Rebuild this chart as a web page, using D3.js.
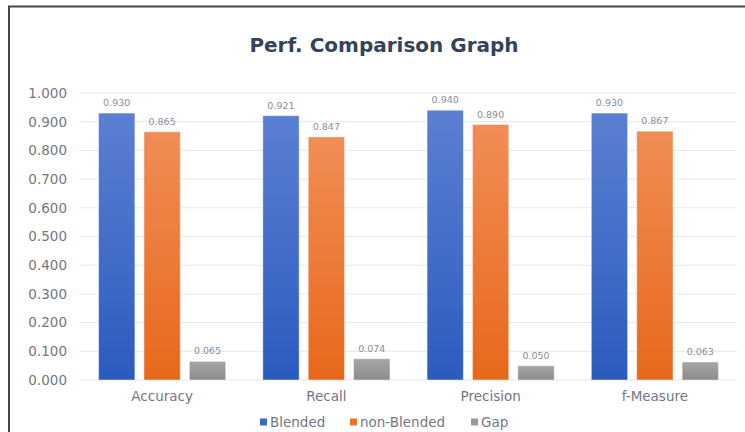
<!DOCTYPE html>
<html>
<head>
<meta charset="utf-8">
<script src="https://cdn.jsdelivr.net/npm/d3@7/dist/d3.min.js"></script>
<style>
  html, body { margin: 0; padding: 0; background: #fff; }
  svg { display: block; font-family: "DejaVu Sans", sans-serif; }
</style>
</head>
<body>
<svg id="chart" width="745" height="432"></svg>
<script>
// Metric categories and the three series compared for each one
const categories = ["Accuracy", "Recall", "Precision", "f-Measure"];
const seriesNames = ["Blended", "non-Blended", "Gap"];
const blended = [0.930, 0.921, 0.940, 0.930];
const nonBlended = [0.865, 0.847, 0.890, 0.867];
const gap = [0.065, 0.074, 0.050, 0.063];
const yTicks = [0, 0.1, 0.2, 0.3, 0.4, 0.5, 0.6, 0.7, 0.8, 0.9, 1.0];

const seriesValues = [blended, nonBlended, gap];
const colors = {
  "Blended":     { top: "#5b80d2", bottom: "#2c5bbf", key: "#3a66c6" },
  "non-Blended": { top: "#f08d55", bottom: "#e8681b", key: "#ec7425" },
  "Gap":         { top: "#a6a6a6", bottom: "#8c8c8c", key: "#9a9a9a" }
};
const labelFont = "'DejaVu Sans', sans-serif";
const labelColor = "#737782";

const svg = d3.select("#chart");
const W = 745, H = 432;
const margin = { left: 80, right: 8, top: 93, bottom: 52 };
const plotW = W - margin.left - margin.right;
const plotH = H - margin.top - margin.bottom;

// Outer frame
svg.append("path")
  .attr("d", `M9,${H} L9,6.5 L${W},6.5`)
  .attr("fill", "none")
  .attr("stroke", "#444")
  .attr("stroke-width", 2);

// Gradients for the bars
const defs = svg.append("defs");
seriesNames.forEach((s, i) => {
  const g = defs.append("linearGradient")
    .attr("id", "grad" + i)
    .attr("x1", 0).attr("y1", 0).attr("x2", 0).attr("y2", 1);
  g.append("stop").attr("offset", "0%").attr("stop-color", colors[s].top);
  g.append("stop").attr("offset", "100%").attr("stop-color", colors[s].bottom);
});

// Title
svg.append("text")
  .attr("x", 384).attr("y", 52)
  .attr("text-anchor", "middle")
  .attr("font-family", labelFont)
  .attr("font-size", 20)
  .attr("font-weight", 700)
  .attr("fill", "#34435a")
  .text("Perf. Comparison Graph");

const g = svg.append("g").attr("transform", `translate(${margin.left},${margin.top})`);

const y = d3.scaleLinear().domain([0, 1]).range([plotH, 0]);
const x0 = d3.scaleBand().domain(categories).range([0, plotW]).paddingInner(0.226).paddingOuter(0.113);
const x1 = d3.scaleBand().domain(seriesNames).range([0, x0.bandwidth()]).paddingInner(0.2);

// Gridlines
g.append("g").selectAll("line").data(yTicks).join("line")
  .attr("x1", 0).attr("x2", plotW)
  .attr("y1", d => y(d)).attr("y2", d => y(d))
  .attr("stroke", "#e4e7ec")
  .attr("stroke-width", 1);

// Y axis labels
const yAxis = d3.axisLeft(y).tickValues(yTicks).tickFormat(d3.format(".3f")).tickSize(0).tickPadding(13);
g.append("g").call(yAxis)
  .call(a => a.select(".domain").remove())
  .selectAll("text")
  .attr("font-family", labelFont)
  .attr("font-size", 13.5)
  .attr("fill", labelColor);

// X axis category labels
const xAxis = d3.axisBottom(x0).tickSize(0).tickPadding(11);
g.append("g").attr("transform", `translate(0,${plotH})`).call(xAxis)
  .call(a => a.select(".domain").remove())
  .selectAll("text")
  .attr("font-family", labelFont)
  .attr("font-size", 13.5)
  .attr("fill", labelColor);

// Bars
const rows = [];
categories.forEach((c, ci) => {
  seriesNames.forEach((s, si) => rows.push({ cat: c, series: s, si, value: seriesValues[si][ci] }));
});

g.append("g").selectAll("rect").data(rows).join("rect")
  .attr("x", d => x0(d.cat) + x1(d.series))
  .attr("y", d => y(d.value))
  .attr("width", x1.bandwidth())
  .attr("height", d => plotH - y(d.value))
  .attr("fill", d => `url(#grad${d.si})`)
  .attr("stroke", "rgba(255,255,255,0.45)")
  .attr("stroke-width", 1);

// Value labels
g.append("g").selectAll("text").data(rows).join("text")
  .attr("x", d => x0(d.cat) + x1(d.series) + x1.bandwidth() / 2)
  .attr("y", d => y(d.value) - 7)
  .attr("text-anchor", "middle")
  .attr("font-family", labelFont)
  .attr("font-size", 9.5)
  .attr("fill", "#8a8e98")
  .text(d => d3.format(".3f")(d.value));

// Legend
const legendItems = [
  { name: "Blended", x: 260 },
  { name: "non-Blended", x: 350 },
  { name: "Gap", x: 471 }
];
const lg = svg.append("g");
legendItems.forEach(it => {
  lg.append("rect")
    .attr("x", it.x).attr("y", 418.5)
    .attr("width", 7).attr("height", 7)
    .attr("fill", colors[it.name].key);
  lg.append("text")
    .attr("x", it.x + 10).attr("y", 427)
    .attr("font-family", labelFont)
    .attr("font-size", 13.5)
    .attr("fill", labelColor)
    .text(it.name);
});
</script>
</body>
</html>
